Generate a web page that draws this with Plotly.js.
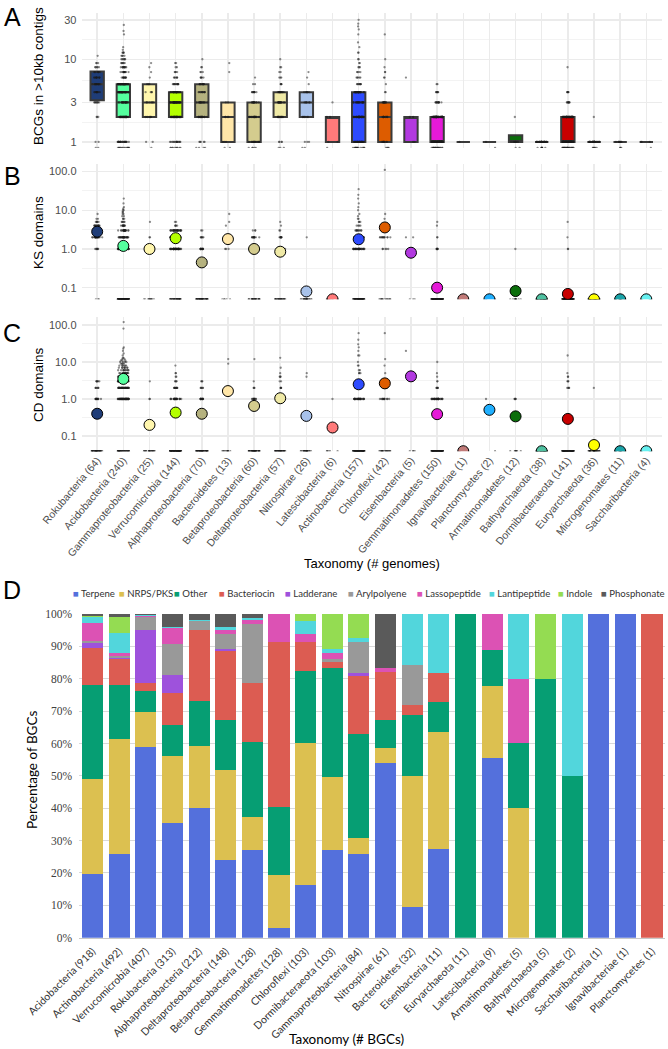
<!DOCTYPE html>
<html><head><meta charset="utf-8">
<script src="https://cdn.plot.ly/plotly-3.0.1.min.js"></script>
<style>html,body{margin:0;padding:0;background:#fff}#chart{width:668px;height:1049px}</style>
</head><body><div id="chart"></div>
<script>
// ---------- Panels A-C : taxa (# genomes) ----------
const taxaGenomes = ['Rokubacteria (64)','Acidobacteria (240)','Gammaproteobacteria (25)','Verrucomicrobia (144)','Alphaproteobacteria (70)','Bacteroidetes (13)','Betaproteobacteria (60)','Deltaproteobacteria (57)','Nitrospirae (26)','Latescibacteria (6)','Actinobacteria (157)','Chloroflexi (42)','Eisenbacteria (5)','Gemmatimonadetes (150)','Ignavibacteriae (1)','Planctomycetes (2)','Armatimonadetes (12)','Bathyarchaeota (38)','Dormibacteraeota (141)','Euryarchaeota (36)','Microgenomates (11)','Saccharibacteria (4)'];
const taxaColors = ['#1f3d78','#55ff9e','#fff6ad','#b4ff00','#b5b27f','#ffe6a8','#d4cc8e','#efe9a6','#a8c2ea','#ff7a7a','#2d4bff','#dd5c00','#b239e0','#e51ad8','#c17a78','#20b0ff','#0b6e0b','#4ec0a0','#c80000','#ffff00','#1aa3a8','#66f0f0'];

// Panel A box statistics (BGCs in >10kb contigs)
const boxQ1     = [3.2,2,2,2,2,1,1,2,2,1,1,1,1,1,1,1,1,1,1,1,1,1];
const boxMedian = [5,4,3,3,3,2,2,3,3,2,2,2,2,1,1,1,1,1,1,1,1,1];
const boxQ3     = [7.1,5,5,4,5,3,3,4,4,2,4,3,2,2,1,1,1.2,1,2,1,1,1];

// Per-genome values as [value, count] pairs (0 = genomes with none)
const genomesA = [
 [[0,2],[1,2],[2,3],[3,8],[4,10],[5,12],[6,10],[7,8],[8,5],[9,3],[11,1]],
 [[0,15],[1,25],[2,30],[3,30],[4,40],[5,42],[6,11],[7,12],[8,10],[9,6],[10,6],[11,4],[12,4],[13,1],[14,1],[20,1],[22,1],[26,1]],
 [[0,1],[1,2],[2,5],[3,6],[4,4],[5,3],[6,1],[7,1],[8,1],[9,1]],
 [[0,10],[1,15],[2,30],[3,35],[4,28],[5,12],[6,6],[7,4],[8,2],[9,2]],
 [[0,4],[1,5],[2,14],[3,14],[4,12],[5,10],[6,5],[7,3],[8,2],[10,1]],
 [[0,2],[1,3],[2,4],[3,2],[7,1],[9,1]],
 [[0,5],[1,15],[2,16],[3,12],[4,9],[5,2],[6,1]],
 [[0,3],[1,4],[2,12],[3,14],[4,12],[5,4],[6,3],[7,2],[8,2],[10,1]],
 [[0,2],[1,3],[2,6],[3,6],[4,6],[5,1],[6,1],[7,1]],
 [[0,1],[1,2],[2,2],[3,1]],
 [[0,15],[1,25],[2,34],[3,25],[4,25],[5,8],[6,5],[7,4],[8,3],[9,2],[10,2],[12,2],[14,1],[16,1],[20,1],[23,1],[25,1],[27,1],[30,1]],
 [[0,4],[1,8],[2,10],[3,10],[4,2],[5,1],[6,2],[7,2],[8,1],[10,1],[20,1]],
 [[1,2],[2,2],[6,1]],
 [[0,20],[1,60],[2,50],[3,12],[4,6],[5,2]],
 [[1,1]],
 [[0,1],[1,1]],
 [[0,2],[1,9],[2,1]],
 [[0,8],[1,30]],
 [[0,25],[1,60],[2,42],[3,8],[4,5],[8,1]],
 [[0,6],[1,29],[2,1]],
 [[0,3],[1,8]],
 [[0,1],[1,3]]
];
// Panel B: KS domains per genome and mean per taxon
const genomesB = [
 [[0,3],[1,6],[2,20],[3,15],[4,12],[5,5],[6,2],[8,1]],
 [[0,110],[1,50],[2,30],[3,20],[4,10],[5,5],[6,3],[7,2],[8,2],[9,2],[10,2],[11,1],[12,1],[15,1],[20,1]],
 [[0,12],[1,10],[2,2],[5,1]],
 [[0,40],[1,40],[2,30],[3,28],[4,4],[5,2]],
 [[0,50],[1,12],[2,6],[3,2]],
 [[0,5],[1,3],[2,2],[4,1],[5,1],[8,1]],
 [[0,30],[1,15],[2,12],[3,3]],
 [[0,30],[1,15],[2,8],[3,2],[4,1],[5,1]],
 [[0,25],[2,1]],
 [[0,6]],
 [[0,80],[1,30],[2,20],[3,10],[4,4],[5,3],[6,2],[7,1],[8,1],[10,1],[12,1],[15,1],[20,1],[25,1],[35,1]],
 [[0,15],[1,5],[2,12],[3,5],[4,2],[6,1],[8,1],[110,1]],
 [[0,3],[2,2]],
 [[0,140],[1,6],[2,2],[4,1],[5,1]],
 [[0,1]],
 [[0,2]],
 [[0,11],[1,1]],
 [[0,38]],
 [[0,137],[1,2],[2,1],[5,1]],
 [[0,36]],
 [[0,11]],
 [[0,4]]
];
const meanKS = [2.8,1.2,1.0,1.9,0.45,1.8,1.0,0.85,0.08,0,1.78,3.6,0.8,0.1,0,0,0.082,0,0.069,0,0,0];
// Panel C: CD domains per genome and mean per taxon
const genomesC = [
 [[0,40],[1,12],[2,6],[3,6]],
 [[0,39],[1,50],[2,40],[3,30],[4,20],[5,15],[6,10],[7,8],[8,6],[9,4],[10,4],[11,3],[12,2],[13,2],[15,1],[17,1],[20,1],[23,1],[25,1],[80,1],[120,1]],
 [[0,22],[1,2],[3,1]],
 [[0,100],[1,25],[2,10],[3,4],[4,2],[5,2],[8,1]],
 [[0,50],[1,12],[2,5],[3,3]],
 [[0,11],[9,1],[12,1]],
 [[0,45],[1,10],[2,3],[3,1],[12,1]],
 [[0,35],[1,10],[2,4],[3,2],[4,3],[5,1],[7,1],[13,1]],
 [[0,24],[4,1],[5,1]],
 [[0,5],[1,1]],
 [[0,100],[1,30],[2,8],[3,4],[5,3],[6,2],[8,2],[10,1],[15,2],[20,1],[25,1],[30,1],[40,1],[60,1]],
 [[0,20],[1,12],[2,4],[3,2],[5,1],[8,1],[12,1],[60,1]],
 [[0,4],[20,1]],
 [[0,110],[1,30],[2,5],[3,2],[4,1],[5,1],[10,1]],
 [[0,1]],
 [[0,1],[1,1]],
 [[0,8],[1,4]],
 [[0,38]],
 [[0,130],[2,4],[3,3],[4,2],[5,1],[15,1]],
 [[0,35],[2,1]],
 [[0,11]],
 [[0,4]]
];
const meanCD = [0.4,3.5,0.2,0.43,0.4,1.64,0.65,1.05,0.35,0.17,2.5,2.65,4.1,0.39,0,0.51,0.34,0,0.29,0.057,0,0];

// ---------- Panel D : taxa (# BGCs), % of BGC classes ----------
const taxaBGCs = ['Acidobacteria (918)','Actinobacteria (492)','Verrucomicrobia (407)','Rokubacteria (313)','Alphaproteobacteria (212)','Deltaproteobacteria (148)','Betaproteobacteria (128)','Gemmatimonadetes (128)','Chloroflexi (103)','Dormibacteraeota (103)','Gammaproteobacteria (84)','Nitrospirae (61)','Bacteroidetes (32)','Eisenbacteria (11)','Euryarchaeota (11)','Latescibacteria (9)','Armatimonadetes (5)','Bathyarchaeota (5)','Microgenomates (2)','Saccharibacteria (1)','Ignavibacteriae (1)','Planctomycetes (1)'];
const bgcClasses = ['Terpene','NRPS/PKS','Other','Bacteriocin','Ladderane','Arylpolyene','Lassopeptide','Lantipeptide','Indole','Phosphonate'];
const classColors = ['#5470dc','#dcc050','#069e73','#dc5c52','#9e52dc','#999999','#dc52b4','#52d6dc','#94dc52','#5a5a5a'];
const pctTerpene      = [19.7,26,59,35.5,40,24.1,27.1,3.1,16.3,27.1,26,54.1,9.4,27.3,0,55.6,0,0,0,100,100,0];
const pctNRPS         = [29.3,35.5,10.6,20.7,19.3,27.6,10.3,16.3,43.9,22.4,4.8,4.6,40.6,36.4,0,22.2,40,0,0,0,0,0];
const pctOther        = [29.1,16.5,6.7,9.5,13.8,15.7,23.2,21.1,22.3,33.9,32.1,8.5,18.8,9.1,100,11.1,20,80,50,0,0,0];
const pctBacteriocin  = [11.5,8,2.3,9.8,22,21.2,18.2,50.8,8.8,1.9,17.9,14.8,3.1,9.1,0,0,0,0,0,0,0,100];
const pctLadderane    = [1.5,0.4,16.5,5.7,0,0.5,0,0,0,0,1.1,0,0,0,0,0,0,0,0,0,0,0];
const pctArylpolyene  = [0.6,0.6,4.1,9.4,2.7,4.6,18.1,0,0,0.8,9.5,0,12.5,0,0,0,0,0,0,0,0,0];
const pctLassopeptide = [5.6,0.8,0.3,5.0,0,1.4,1.2,8.7,2.4,1.9,0,1.3,0,0,0,11.1,20,0,0,0,0,0];
const pctLantipeptide = [1.9,6.2,0.3,0.3,0.5,0.8,0.8,0,4.1,1.1,1.1,0,15.6,18.2,0,0,20,0,50,0,0,0];
const pctIndole       = [0.3,5,0,0,0,0,0,0,2.2,10.9,7.5,0,0,0,0,0,0,20,0,0,0,0];
const pctPhosphonate  = [0.5,1,0.2,4.1,1.7,4.1,1.1,0,0,0,0,16.7,0,0,0,0,0,0,0,0,0,0];
const pctSeries = [pctTerpene,pctNRPS,pctOther,pctBacteriocin,pctLadderane,pctArylpolyene,pctLassopeptide,pctLantipeptide,pctIndole,pctPhosphonate];

// ---------- helpers ----------
const W = 668, H = 1049;
const px = v => v / W, py = v => 1 - v / H;
const rangeA = [-0.074, 1.56], rangeB = [-1.3, 2.19], rangeC = [-1.41, 2.23];
// zeros sit on the lower panel edge (as ggplot does with -Inf on a log scale)
const floorOf = r => Math.pow(10, r[0]);
function expand(groups, floor) {
  const xs = [], ys = [];
  groups.forEach((list, i) => list.forEach(([v, c]) => {
    for (let k = 0; k < c; k++) { xs.push(taxaGenomes[i]); ys.push(v === 0 ? floor : v); }
  }));
  return {xs, ys};
}
const sansAC = 'Liberation Sans, Arial, sans-serif';
const sansD = 'Lato, Open Sans, sans-serif';
const tickCol = '#4d4d4d';
const traces = [];

// Panel A boxes
taxaGenomes.forEach((t, i) => {
  traces.push({type:'box', x:[t], q1:[boxQ1[i]], median:[boxMedian[i]], q3:[boxQ3[i]],
    lowerfence:[boxQ1[i]], upperfence:[boxQ3[i]], fillcolor:taxaColors[i],
    line:{color:'#3a3a3a', width:2}, boxpoints:false, showlegend:false, hoverinfo:'skip',
    xaxis:'x', yaxis:'y'});
});
function pointTrace(groups, floor, xa, ya) {
  const e = expand(groups, floor);
  return {type:'box', x:e.xs, y:e.ys, boxpoints:'all', jitter:0.85, pointpos:0,
    fillcolor:'rgba(0,0,0,0)', line:{color:'rgba(0,0,0,0)', width:0},
    marker:{size:2.3, color:'rgba(25,25,25,0.5)'}, showlegend:false, hoverinfo:'skip',
    xaxis:xa, yaxis:ya};
}
traces.push(pointTrace(genomesA, floorOf(rangeA), 'x', 'y'));
traces.push(pointTrace(genomesB, floorOf(rangeB), 'x2', 'y2'));
traces.push(pointTrace(genomesC, floorOf(rangeC), 'x3', 'y3'));
traces.push({type:'scatter', mode:'markers', x:taxaGenomes, y:meanKS.map(v => v === 0 ? floorOf(rangeB) : v),
  marker:{size:11, color:taxaColors, line:{color:'#000', width:1}}, showlegend:false, hoverinfo:'skip', xaxis:'x2', yaxis:'y2'});
traces.push({type:'scatter', mode:'markers', x:taxaGenomes, y:meanCD.map(v => v === 0 ? floorOf(rangeC) : v),
  marker:{size:11, color:taxaColors, line:{color:'#000', width:1}}, showlegend:false, hoverinfo:'skip', xaxis:'x3', yaxis:'y3'});

// Panel D stacked bars
bgcClasses.forEach((c, k) => {
  traces.push({type:'bar', name:c, x:taxaBGCs, y:pctSeries[k], marker:{color:classColors[k]},
    showlegend:false, hoverinfo:'skip', xaxis:'x4', yaxis:'y4'});
});

function catAxis(yanchor, showLabels) {
  return {domain:[px(81.5), px(662)], anchor:yanchor, type:'category', categoryorder:'array',
    categoryarray:taxaGenomes, range:[-0.6, 21.6], showgrid:true, gridcolor:'#ebebeb', gridwidth:1.5,
    zeroline:false, showline:false, ticks:'', showticklabels:showLabels, tickangle:-50,
    tickfont:{family:sansAC, size:10.5, color:tickCol}, ticklabelstandoff:0};
}
function logAxis(top, bottom, range, vals, texts, minorVals, xanchor) {
  return {domain:[py(bottom), py(top)], anchor:xanchor, type:'log', range:range,
    tickmode:'array', tickvals:vals, ticktext:texts, showgrid:true, gridcolor:'#ebebeb', gridwidth:1.5,
    zeroline:false, showline:false, ticks:'', ticklabelstandoff:4,
    tickfont:{family:sansAC, size:11, color:tickCol},
    minor:{tickmode:'array', tickvals:minorVals, showgrid:true, gridcolor:'#f0f0f0', gridwidth:0.8, ticks:''}};
}

const ann = [];
const addText = (text, x, y, size, family, extra) => ann.push(Object.assign({text, x:px(x), y:py(y), xref:'paper', yref:'paper',
  xanchor:'center', yanchor:'middle', showarrow:false, font:{size, family, color:'#000'}}, extra || {}));
addText('A', 12, 17, 25, sansAC);
addText('B', 12, 176, 25, sansAC);
addText('C', 12, 333, 25, sansAC);
addText('D', 12, 590, 25, sansAC);
addText('BCGs in >10kb contigs', 38, 76, 13.5, sansAC, {textangle:-90});
addText('KS domains', 38, 233, 13.5, sansAC, {textangle:-90});
addText('CD domains', 38, 385, 13.5, sansAC, {textangle:-90});
addText('Taxonomy (# genomes)', 372, 563, 13, sansAC);
addText('Percentage of BGCs', 32, 770, 13.5, sansD, {textangle:-90});
addText('Taxonomy (# BGCs)', 346, 1039, 13.5, sansD);
// legend for panel D
const legendX = [71,117,172,217,283,346,415,487,556,599];
bgcClasses.forEach((c, k) => {
  ann.push({text:'<span style="color:' + classColors[k] + '">■</span> ' + c, x:px(legendX[k]), y:py(593),
    xref:'paper', yref:'paper', xanchor:'left', yanchor:'middle', showarrow:false,
    font:{size:9.6, family:sansD, color:'#333'}});
});

const layout = {
  width:W, height:H, margin:{l:0, r:0, t:0, b:0}, paper_bgcolor:'#fff', plot_bgcolor:'rgba(0,0,0,0)',
  showlegend:false, boxmode:'overlay', boxgap:0.27, barmode:'stack', bargap:0.21,
  xaxis: catAxis('y', false),
  xaxis2: catAxis('y2', false),
  xaxis3: catAxis('y3', true),
  yaxis: logAxis(13, 148, rangeA, [1,3,10,30], ['1','3','10','30'], [1.732,5.477,17.32], 'x'),
  yaxis2: logAxis(164.2, 299.3, rangeB, [0.1,1,10,100], ['0.1','1.0','10.0','100.0'], [0.3162,3.162,31.62], 'x2'),
  yaxis3: logAxis(316.5, 451.2, rangeC, [0.1,1,10,100], ['0.1','1.0','10.0','100.0'], [0.3162,3.162,31.62], 'x3'),
  xaxis4: {domain:[px(79.2), px(665.3)], anchor:'y4', type:'category', categoryorder:'array', categoryarray:taxaBGCs,
    range:[-0.5, 21.5], showgrid:false, zeroline:false, showline:true, linecolor:'#c8c8c8', linewidth:1.5, ticks:'',
    tickangle:-45, tickfont:{family:sansD, size:10.5, color:'#333'}, ticklabelstandoff:2},
  yaxis4: {domain:[py(937.7), py(614)], anchor:'x4', range:[0, 100], tickmode:'linear', tick0:0, dtick:10, ticksuffix:'%',
    showgrid:true, gridcolor:'#d9d9d9', gridwidth:1, zeroline:false, showline:false, ticks:'', ticklabelstandoff:6,
    tickfont:{family:'Liberation Serif, Times New Roman, serif', size:11.5, color:'#404040'}},
  annotations: ann
};
Plotly.newPlot('chart', traces, layout, {staticPlot:true, displayModeBar:false});
</script></body></html>
